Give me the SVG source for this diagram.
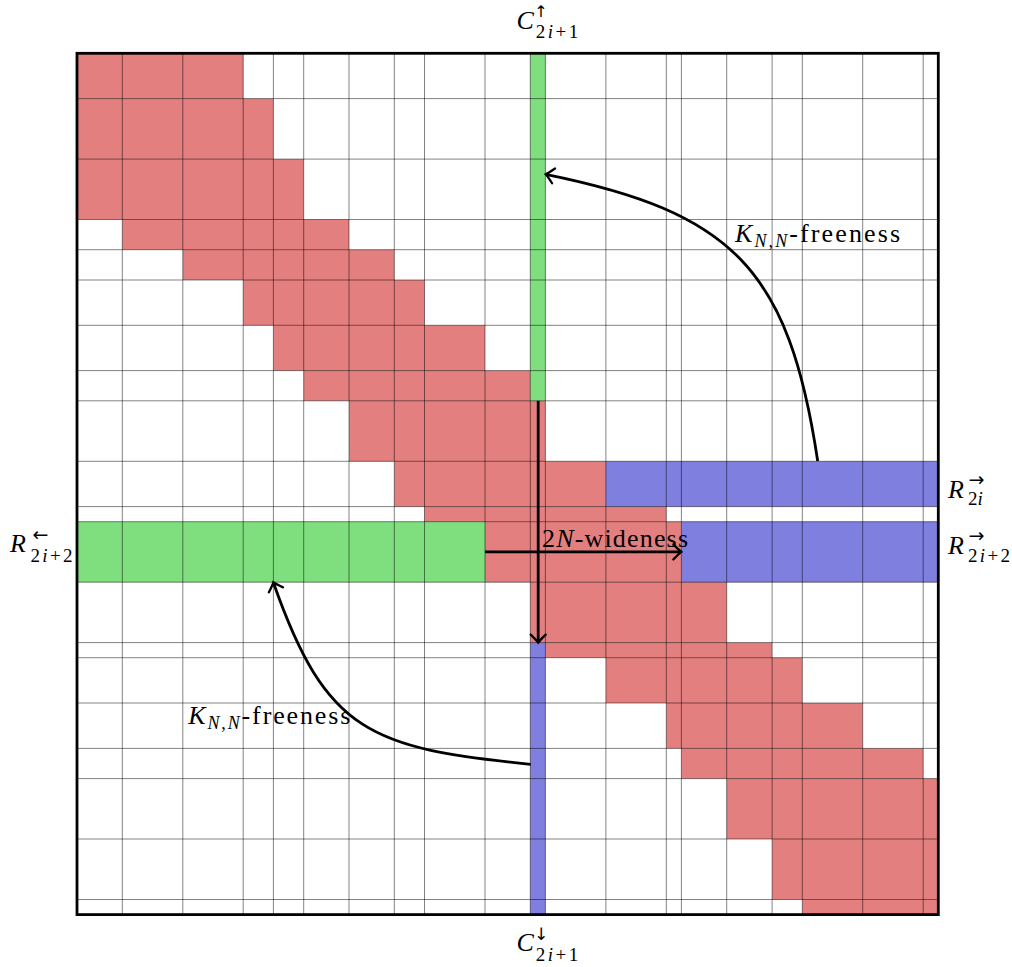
<svg xmlns="http://www.w3.org/2000/svg" width="1012" height="967" viewBox="0 0 1012 967">
<style>
.red{fill:#c70000;fill-opacity:.5}
.grn{fill:#00c000;fill-opacity:.5}
.blu{fill:#0000c0;fill-opacity:.5}
.gl{stroke:#000;stroke-opacity:.55;stroke-width:.9;fill:none}
.arr{stroke:#000;stroke-width:2.8;fill:none;marker-end:url(#ah)}
.t{font-family:"Liberation Serif","DejaVu Serif",serif;fill:#000}
.it{font-style:italic}
.ar{font-family:"DejaVu Sans",sans-serif;fill:#000}
</style>
<defs>
<marker id="ah" viewBox="-11 -10 13 20" markerWidth="13" markerHeight="20" refX="0" refY="0" orient="auto" markerUnits="userSpaceOnUse">
<path d="M-8,-7.5 Q-2.5,-1.8 0,0 Q-2.5,1.8 -8,7.5" fill="none" stroke="#000" stroke-width="2.3" stroke-linecap="round"/>
</marker>
</defs>
<rect x="0" y="0" width="1012" height="967" fill="#fff"/>
<g id="cells">
<rect class="red" x="77" y="53.3" width="166.2" height="45.3"/>
<rect class="red" x="77" y="98.6" width="196.4" height="60.5"/>
<rect class="red" x="77" y="159.1" width="226.7" height="60.4"/>
<rect class="red" x="122.3" y="219.5" width="226.7" height="30.2"/>
<rect class="red" x="182.8" y="249.7" width="211.5" height="30.3"/>
<rect class="red" x="243.2" y="280" width="181.3" height="45.3"/>
<rect class="red" x="273.4" y="325.3" width="211.6" height="45.3"/>
<rect class="red" x="303.7" y="370.6" width="226.6" height="30.2"/>
<rect class="red" x="349" y="400.8" width="196.4" height="60.5"/>
<rect class="red" x="394.3" y="461.3" width="211.6" height="45.3"/>
<rect class="red" x="424.5" y="506.6" width="241.8" height="15.1"/>
<rect class="red" x="485" y="521.7" width="196.4" height="60.5"/>
<rect class="red" x="530.3" y="582.2" width="196.4" height="60.4"/>
<rect class="red" x="545.4" y="642.6" width="226.7" height="15.1"/>
<rect class="red" x="605.9" y="657.7" width="196.4" height="45.3"/>
<rect class="red" x="666.3" y="703" width="196.4" height="45.4"/>
<rect class="red" x="681.4" y="748.4" width="241.8" height="30.2"/>
<rect class="red" x="726.7" y="778.6" width="211.6" height="60.4"/>
<rect class="red" x="772.1" y="839" width="166.2" height="60.5"/>
<rect class="red" x="802.3" y="899.5" width="136" height="15.1"/>
<rect id="col-up" class="grn" x="530.3" y="53.3" width="15.1" height="347.5"/>
<rect id="col-down" class="blu" x="530.3" y="642.6" width="15.1" height="272"/>
<rect id="row-left" class="grn" x="77" y="521.7" width="408" height="60.5"/>
<rect id="row-2i" class="blu" x="605.9" y="461.3" width="332.4" height="45.3"/>
<rect id="row-2i2" class="blu" x="681.4" y="521.7" width="256.9" height="60.5"/>
</g>
<g id="grid" class="gl">
<path d="M122.3,53.3V914.6M182.8,53.3V914.6M243.2,53.3V914.6M273.4,53.3V914.6M303.7,53.3V914.6M349,53.3V914.6M394.3,53.3V914.6M424.5,53.3V914.6M485,53.3V914.6M530.3,53.3V914.6M545.4,53.3V914.6M605.9,53.3V914.6M666.3,53.3V914.6M681.4,53.3V914.6M726.7,53.3V914.6M772.1,53.3V914.6M802.3,53.3V914.6M862.7,53.3V914.6M923.2,53.3V914.6"/>
<path d="M77,98.6H938.3M77,159.1H938.3M77,219.5H938.3M77,249.7H938.3M77,280H938.3M77,325.3H938.3M77,370.6H938.3M77,400.8H938.3M77,461.3H938.3M77,506.6H938.3M77,521.7H938.3M77,582.2H938.3M77,642.6H938.3M77,657.7H938.3M77,703H938.3M77,748.4H938.3M77,778.6H938.3M77,839H938.3M77,899.5H938.3"/>
</g>
<rect id="border" x="77" y="53.3" width="861.3" height="861.3" fill="none" stroke="#000" stroke-width="2.8"/>
<g id="connectors">
<path class="arr" d="M817.7,461 C788.9,268.1 731.9,212.2 545.7,174.3"/>
<path class="arr" d="M530.7,764.3 C371.5,748.3 326.1,733.3 273.3,582.3"/>
<path class="arr" d="M538.2,400.8 V642.6"/>
<path class="arr" d="M485,551.9 H681.4"/>
</g>
<g id="label-C-up">
<text class="t it" x="516.5" y="29" font-size="26">C</text>
<text class="ar" x="541" y="17" font-size="16" text-anchor="middle">↑</text>
<text class="t" x="535.7" y="38.3" font-size="19" textLength="42.5" lengthAdjust="spacing">2<tspan class="it">i</tspan>+1</text>
</g>
<g id="label-C-down">
<text class="t it" x="516.5" y="950.7" font-size="26">C</text>
<text class="ar" x="541" y="940" font-size="17" text-anchor="middle">↓</text>
<text class="t" x="535.7" y="960.7" font-size="19" textLength="42.5" lengthAdjust="spacing">2<tspan class="it">i</tspan>+1</text>
</g>
<g id="label-R-left">
<text class="t it" x="10" y="552.3" font-size="26">R</text>
<text class="ar" x="40.5" y="541" font-size="19" text-anchor="middle">←</text>
<text class="t" x="30.5" y="562.3" font-size="19" textLength="42" lengthAdjust="spacing">2<tspan class="it">i</tspan>+2</text>
</g>
<g id="label-R-2i">
<text class="t it" x="948" y="498" font-size="26">R</text>
<text class="ar" x="976.5" y="486" font-size="19" text-anchor="middle">→</text>
<text class="t" x="968" y="505" font-size="19">2<tspan class="it">i</tspan></text>
</g>
<g id="label-R-2i2">
<text class="t it" x="948" y="553.5" font-size="26">R</text>
<text class="ar" x="976.5" y="542" font-size="19" text-anchor="middle">→</text>
<text class="t" x="968" y="562.3" font-size="19" textLength="42" lengthAdjust="spacing">2<tspan class="it">i</tspan>+2</text>
</g>
<g id="label-free-up">
<text class="t" x="735" y="242" font-size="26" textLength="165" lengthAdjust="spacing"><tspan class="it">K</tspan><tspan class="it" font-size="18" dy="5">N</tspan><tspan font-size="18">,</tspan><tspan class="it" font-size="18">N</tspan><tspan dy="-5">-freeness</tspan></text>
</g>
<g id="label-free-down">
<text class="t" x="188.3" y="724" font-size="26" textLength="162" lengthAdjust="spacing"><tspan class="it">K</tspan><tspan class="it" font-size="18" dy="5">N</tspan><tspan font-size="18">,</tspan><tspan class="it" font-size="18">N</tspan><tspan dy="-5">-freeness</tspan></text>
</g>
<g id="label-wide">
<text class="t" x="542" y="546.7" font-size="26" textLength="146" lengthAdjust="spacing">2<tspan class="it">N</tspan>-wideness</text>
</g>
</svg>
